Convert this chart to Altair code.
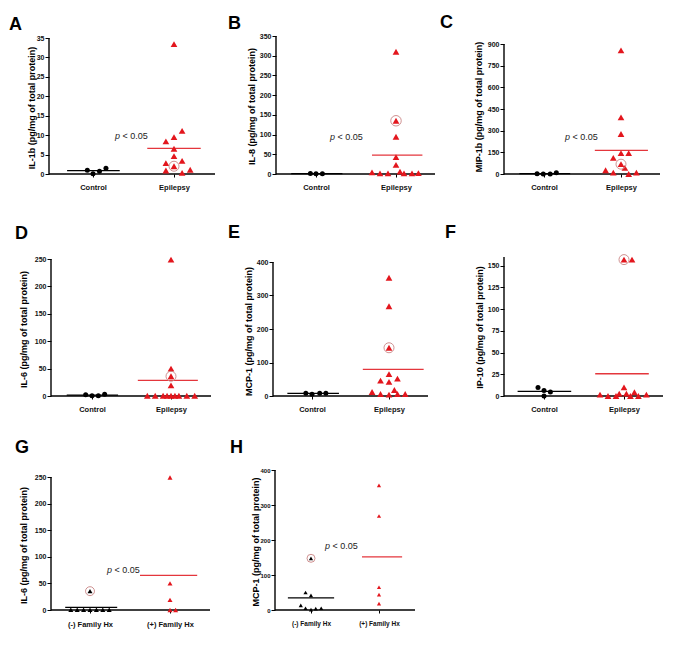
import altair as alt
import pandas as pd

FONT = "Liberation Sans"
RED = "#e3161d"
RED_LINE = "#e4363c"
RING = "#c98484"

GROUPS_CE = ["Control", "Epilepsy"]
GROUPS_FH = ["(-) Family Hx", "(+) Family Hx"]

# ---------------- data ----------------
# Panel A  IL-1b
A_TICKS = [0, 5, 10, 15, 20, 25, 30, 35]
A_G1 = [0.94, 0.09, 0.68, 1.45]
A_G1_X = [-0.07, 0.0, 0.08, 0.16]
A_G2 = [33.4, 11.1, 9.5, 8.4, 6.5, 4.6, 2.8, 3.4, 2.0, 0.9, 0.3, 1.1]
A_G2_X = [0, 0.1, 0, -0.1, 0, 0, -0.1, 0.1, 0, -0.1, 0.1, 0.2]
A_RING = [2, 2.0, 0.0]
A_MEANS = [0.85, 6.6]
A_SPANS = [[-0.32, 0.33], [-0.33, 0.33]]

# Panel B  IL-8
B_TICKS = [0, 50, 100, 150, 200, 250, 300, 350]
B_G1 = [1.0, 0.5, 0.5]
B_G1_X = [-0.07, 0.0, 0.08]
B_G2 = [310, 135, 94.5, 43, 23, 4, 1.5, 1.5, 6, 1.5, 1.5, 2]
B_G2_X = [0, 0, 0, 0, 0, -0.3, -0.2, -0.1, 0.05, 0.1, 0.2, 0.28]
B_RING = [2, 135, 0.0]
B_MEANS = [1.0, 47.7]
B_SPANS = [[-0.31, 0.33], [-0.30, 0.33]]

# Panel C  MIP-1b
C_TICKS = [0, 150, 300, 450, 600, 750, 900]
C_G1 = [1, 0.5, 0.5, 9]
C_G1_X = [-0.09, -0.01, 0.08, 0.16]
C_G2 = [856, 392, 277, 145, 145, 112, 68, 26, 42, 9, 0, 9]
C_G2_X = [0, 0, 0, 0, 0.1, -0.1, 0, -0.2, 0.05, -0.1, 0.1, 0.2]
C_RING = [2, 68, 0.0]
C_MEANS = [2.3, 163]
C_SPANS = [[-0.32, 0.34], [-0.34, 0.35]]

# Panel D  IL-6
D_TICKS = [0, 50, 100, 150, 200, 250]
D_G1 = [2.4, 0.3, 0.3, 3.0]
D_G1_X = [-0.08, 0.0, 0.08, 0.16]
D_G2 = [249, 50, 36, 19.5, 0.5, 0.5, 0.5, 0.5, 0.5, 0.5, 0.5, 0.5, 0.5]
D_G2_X = [0, 0, 0, 0, -0.3, -0.2, -0.1, -0.05, 0, 0.05, 0.1, 0.2, 0.3]
D_RING = [2, 36, 0.0]
D_MEANS = [1.5, 28.6]
D_SPANS = [[-0.32, 0.33], [-0.42, 0.34]]

# Panel E  MCP-1
E_TICKS = [0, 100, 200, 300, 400]
E_G1 = [8, 5, 8, 8]
E_G1_X = [-0.08, 0.0, 0.1, 0.18]
E_G2 = [353, 268, 144, 65.5, 45.7, 42, 51.6, 18, 12, 6, 4, 6, 6]
E_G2_X = [0, 0, 0, 0, -0.11, 0, 0.11, 0.07, -0.22, -0.11, 0, 0.11, 0.21]
E_RING = [2, 144, 0.0]
E_MEANS = [8, 79.4]
E_SPANS = [[-0.32, 0.35], [-0.34, 0.45]]

# Panel F  IP-10
F_TICKS = [0, 25, 50, 75, 100, 125, 150]
F_G1 = [9.7, 6.2, 0, 4.7]
F_G1_X = [-0.075, 0.0, 0.0, 0.08]
F_G2 = [157, 157, 10, 4.3, 2.7, 2.7, 1.5, 0, 0, 0, 0, 1.5]
F_G2_X = [0, 0.1, 0, 0.13, 0.03, -0.06, -0.3, -0.2, -0.1, 0.08, 0.18, 0.28]
F_RING = [2, 157, 0.0]
F_MEANS = [5.4, 25.6]
F_SPANS = [[-0.33, 0.34], [-0.36, 0.31]]

# Panel G  IL-6 by family history
G_TICKS = [0, 50, 100, 150, 200, 250]
G_G1 = [0.5, 0.5, 0.5, 0.5, 0.5, 0.5, 0.5, 35.4]
G_G1_X = [-0.24, -0.16, -0.08, 0, 0.08, 0.16, 0.24, 0]
G_G2 = [249, 50, 19, 0, 0]
G_G2_X = [0, 0, 0, 0, 0.07]
G_RING = [1, 35.4, 0.0]
G_MEANS = [5, 65]
G_SPANS = [[-0.31, 0.34], [-0.375, 0.34]]

# Panel H  MCP-1 by family history
H_TICKS = [0, 100, 200, 300, 400]
H_G1 = [147.7, 50, 42, 13, 5, 1, 4, 5]
H_G1_X = [0, -0.08, 0, -0.15, -0.08, 0, 0.07, 0.15]
H_G2 = [356, 268.6, 65, 44, 18]
H_G2_X = [0, 0, 0, 0, 0]
H_RING = [1, 147.7, 0.0]
H_MEANS = [34.5, 151.6]
H_SPANS = [[-0.34, 0.34], [-0.25, 0.34]]

# ---------------- layout (page pixels) ----------------
COL_X = [49, 270, 500]
COL_W = [171, 180, 165]
ROW_Y = [34, 244, 466]
ROW_H = [140, 152, 144]
COL_GAP = 50
ROW_GAP = 70


def make_panel(cfg):
    row, col = cfg["row"], cfg["col"]
    cell_l, cell_t = COL_X[col], ROW_Y[row]
    W, H = COL_W[col], ROW_H[row]
    bottom = cell_t + H
    L, R, c1, c2, top_px = cfg["geom"]
    unit = c2 - c1
    dlo = 1 - (c1 - cell_l) / unit
    dhi = dlo + W / unit
    xlo = 1 - (c1 - L) / unit
    xhi = 2 + (R - c2) / unit
    k = (bottom - top_px) / cfg["ytop"]
    ydt = H / k

    labels = cfg["labels"]
    xaxis = alt.Axis(
        values=[1, 2], labelExpr=f"datum.value == 1 ? '{labels[0]}' : '{labels[1]}'",
        domain=False, grid=False, tickSize=3, tickColor="black", tickWidth=1,
        labelFont=FONT, labelFontSize=cfg.get("xlab", 7.5), labelFontWeight="bold",
        labelColor="#111", labelPadding=cfg.get("xpad", 6), labelAngle=0,
        labelFlush=False, labelOverlap=False, title=None)
    yaxis = alt.Axis(
        values=cfg["ticks"], domain=False, grid=False, orient="left", offset=-(L - cell_l),
        tickSize=4, tickColor="black", tickWidth=1,
        labelFont=FONT, labelFontSize=cfg.get("ylab", 7), labelFontWeight="bold",
        labelColor="#111", labelPadding=1, labelOverlap=False, labelFlush=False,
        title=cfg["title"], titleFont=FONT, titleFontSize=9, titleFontWeight="bold",
        titleColor="black", titleX=cfg["title_x"], titleY=cfg["title_y"] - cell_t,
        titleBaseline="middle")
    X = alt.X("x:Q", scale=alt.Scale(domain=[dlo, dhi], nice=False, zero=False), axis=xaxis)
    Y = alt.Y("y:Q", scale=alt.Scale(domain=[0, ydt], nice=False, zero=False), axis=yaxis)

    axes_df = pd.DataFrame({"x": [xlo, xlo], "x2": [xhi, xlo], "y": [0, 0], "y2": [0, cfg["ytop"]]})
    axes = alt.Chart(axes_df).mark_rule(color="black", strokeWidth=1.4).encode(
        x=X, x2="x2:Q", y=Y, y2="y2:Q")

    spans = cfg["spans"]
    mean_df = pd.DataFrame({
        "x": [1 + spans[0][0], 2 + spans[1][0]],
        "x2": [1 + spans[0][1], 2 + spans[1][1]],
        "y": cfg["means"], "c": ["black", RED_LINE]})
    means = alt.Chart(mean_df).mark_rule(strokeWidth=1.3).encode(
        x=X, x2="x2:Q", y=Y, color=alt.Color("c:N", scale=None))

    g1_df = pd.DataFrame({"x": [1 + o for o in cfg["g1x"]], "y": cfg["g1"]})
    g1 = alt.Chart(g1_df).mark_point(
        shape=cfg["g1_shape"], filled=True, size=cfg["g1_size"], color="black",
        opacity=1, strokeWidth=0).encode(x=X, y=Y)

    g2_df = pd.DataFrame({"x": [2 + o for o in cfg["g2x"]], "y": cfg["g2"]})
    g2 = alt.Chart(g2_df).mark_point(
        shape="triangle-up", filled=True, size=cfg["g2_size"], color=RED,
        opacity=1, strokeWidth=0).encode(x=X, y=Y)

    rg, rv, ro = cfg["ring"]
    ring_df = pd.DataFrame({"x": [rg + ro], "y": [rv]})
    ring = alt.Chart(ring_df).mark_point(
        shape="circle", filled=False, size=cfg["ring_size"], color=RING,
        strokeWidth=0.9, opacity=1).encode(x=X, y=Y)

    layers = [axes, means, g1, g2, ring]

    one = pd.DataFrame({"k": [0]})
    lx, ly = cfg["letter_xy"]
    layers.append(alt.Chart(one).mark_text(
        text=cfg["letter"], font=FONT, fontSize=18, fontWeight="bold", color="black",
        align="left", baseline="alphabetic").encode(x=alt.value(lx), y=alt.value(ly)))
    if cfg.get("p_xy"):
        px, py = cfg["p_xy"]
        layers.append(alt.Chart(one).mark_text(
            text="p", font=FONT, fontSize=9, fontStyle="italic", color="#222",
            align="left", baseline="alphabetic").encode(x=alt.value(px), y=alt.value(py)))
        layers.append(alt.Chart(one).mark_text(
            text="< 0.05", font=FONT, fontSize=9, color="#222",
            align="left", baseline="alphabetic").encode(x=alt.value(px + 7.5), y=alt.value(py)))

    return alt.layer(*layers).properties(width=W, height=H)


PANELS = [
    dict(letter="A", row=0, col=0, geom=(49, 215, 93, 174, 38), ytop=35, ticks=A_TICKS,
         title="IL-1b (pg/mg of total protein)", title_x=-18, title_y=107.5, labels=GROUPS_CE,
         g1=A_G1, g1x=A_G1_X, g1_shape="circle", g1_size=25, g2=A_G2, g2x=A_G2_X, g2_size=45,
         ring=A_RING, ring_size=100, means=A_MEANS, spans=A_SPANS,
         letter_xy=(-40, -4), p_xy=(66, 105)),
    dict(letter="B", row=0, col=1, geom=(276, 435, 316, 396, 36), ytop=350, ticks=B_TICKS,
         title="IL-8 (pg/mg of total protein)", title_x=-24.5, title_y=106, labels=GROUPS_CE,
         g1=B_G1, g1x=B_G1_X, g1_shape="circle", g1_size=25, g2=B_G2, g2x=B_G2_X, g2_size=45,
         ring=B_RING, ring_size=110, means=B_MEANS, spans=B_SPANS,
         letter_xy=(-42, -5), p_xy=(60, 106)),
    dict(letter="C", row=0, col=2, geom=(504, 660, 544, 621, 44), ytop=900, ticks=C_TICKS,
         title="MIP-1b (pg/mg of total protein)", title_x=-26, title_y=106.5, labels=GROUPS_CE,
         g1=C_G1, g1x=C_G1_X, g1_shape="circle", g1_size=25, g2=C_G2, g2x=C_G2_X, g2_size=45,
         ring=C_RING, ring_size=100, means=C_MEANS, spans=C_SPANS,
         letter_xy=(-60, -6), p_xy=(65, 106)),
    dict(letter="D", row=1, col=0, geom=(51, 211, 92, 171, 259), ytop=250, ticks=D_TICKS,
         title="IL-6 (pg/mg of total protein)", title_x=-27.5, title_y=329, labels=GROUPS_CE,
         g1=D_G1, g1x=D_G1_X, g1_shape="circle", g1_size=25, g2=D_G2, g2x=D_G2_X, g2_size=45,
         ring=D_RING, ring_size=100, means=D_MEANS, spans=D_SPANS,
         letter_xy=(-34, -5)),
    dict(letter="E", row=1, col=1, geom=(273, 428, 312, 389, 262), ytop=400, ticks=E_TICKS,
         title="MCP-1 (pg/mg of total protein)", title_x=-25, title_y=331, labels=GROUPS_CE,
         g1=E_G1, g1x=E_G1_X, g1_shape="circle", g1_size=25, g2=E_G2, g2x=E_G2_X, g2_size=45,
         ring=E_RING, ring_size=100, means=E_MEANS, spans=E_SPANS,
         letter_xy=(-42, -6)),
    dict(letter="F", row=1, col=2, geom=(504, 663, 544, 624, 257), ytop=160, ticks=F_TICKS,
         title="IP-10 (pg/mg of total protein)", title_x=-25, title_y=327, labels=GROUPS_CE,
         g1=F_G1, g1x=F_G1_X, g1_shape="circle", g1_size=25, g2=F_G2, g2x=F_G2_X, g2_size=45,
         ring=F_RING, ring_size=100, means=F_MEANS, spans=F_SPANS,
         letter_xy=(-55, -6)),
    dict(letter="G", row=2, col=0, geom=(51, 210, 90, 170, 477), ytop=250, ticks=G_TICKS,
         title="IL-6 (pg/mg of total protein)", title_x=-27.5, title_y=545, labels=GROUPS_FH,
         g1=G_G1, g1x=G_G1_X, g1_shape="triangle-up", g1_size=25, g2=G_G2, g2x=G_G2_X, g2_size=25,
         ring=G_RING, ring_size=80, means=G_MEANS, spans=G_SPANS,
         letter_xy=(-34, -13), p_xy=(58, 107), xpad=7),
    dict(letter="H", row=2, col=1, geom=(275, 415, 311, 379, 470), ytop=400, ticks=H_TICKS,
         title="MCP-1 (pg/mg of total protein)", title_x=-20, title_y=541.5, labels=GROUPS_FH,
         g1=H_G1, g1x=H_G1_X, g1_shape="triangle-up", g1_size=18, g2=H_G2, g2x=H_G2_X, g2_size=18,
         ring=H_RING, ring_size=64, means=H_MEANS, spans=H_SPANS,
         letter_xy=(-40, -13), p_xy=(55, 83), xlab=6.5, ylab=6, xpad=7),
]

charts = [make_panel(p) for p in PANELS]

chart = alt.concat(
    *charts, columns=3, spacing={"row": ROW_GAP, "column": COL_GAP},
    bounds="flush", align="each"
).properties(
    padding={"left": 1, "top": 6, "right": 4, "bottom": 4}
).configure_view(stroke=None)

chart.save("out.html", embed_options={"renderer": "svg", "actions": False})
